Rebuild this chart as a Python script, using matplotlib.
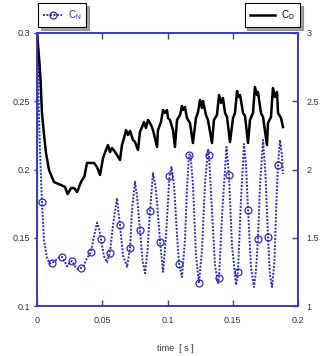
import matplotlib
matplotlib.use("Agg")
import matplotlib.pyplot as plt

plt.rcParams['font.family'] = ['Liberation Sans', 'DejaVu Sans']
plt.rcParams['mathtext.fontset'] = 'custom'
plt.rcParams['mathtext.rm'] = 'Liberation Sans'

# ---- data -----------------------------------------------------------
x_ticks = [0, 0.05, 0.1, 0.15, 0.2]
x_tick_labels = ['0', '0.05', '0.1', '0.15', '0.2']
left_ticks = [0.1, 0.15, 0.2, 0.25, 0.3]
left_tick_labels = ['0.1', '0.15', '0.2', '0.25', '0.3']
right_ticks = [1, 1.5, 2, 2.5, 3]
right_tick_labels = ['1', '1.5', '2', '2.5', '3']

cn_t = [0, 0.0003, 0.0012, 0.0023, 0.0038, 0.0054, 0.0077, 0.0100, 0.0115, 0.0138,
        0.0161, 0.0192, 0.0215, 0.023, 0.0253, 0.0268, 0.0291, 0.0314, 0.0337, 0.036,
        0.0383, 0.0414, 0.0437, 0.046, 0.0475, 0.049, 0.0513, 0.0536, 0.0559, 0.0582,
        0.0613, 0.0636, 0.0659, 0.069, 0.0713, 0.0728, 0.0751, 0.0766, 0.0789, 0.0808,
        0.0828, 0.0847, 0.0866, 0.0889, 0.0912, 0.0943, 0.0966, 0.0989, 0.1015, 0.1031,
        0.105, 0.1073, 0.1088, 0.1111, 0.1134, 0.1149, 0.1165, 0.1176, 0.1195, 0.1218,
        0.1241, 0.1264, 0.1287, 0.131, 0.1318, 0.1341, 0.1364, 0.1387, 0.1395, 0.1418,
        0.1452, 0.1471, 0.1494, 0.1525, 0.154, 0.1563, 0.1586, 0.1602, 0.1617, 0.164,
        0.1663, 0.1678, 0.1693, 0.1709, 0.1732, 0.1751, 0.177, 0.1785, 0.1801, 0.182,
        0.1835, 0.1847, 0.1862, 0.1877, 0.1885]
cn_v = [0.10, 0.30, 0.251, 0.214, 0.176, 0.148, 0.135, 0.131, 0.1315, 0.133,
        0.135, 0.136, 0.132, 0.129, 0.132, 0.133, 0.129, 0.127, 0.128, 0.130,
        0.135, 0.1396, 0.151, 0.161, 0.157, 0.149, 0.1366, 0.132, 0.139, 0.159,
        0.179, 0.159, 0.137, 0.1286, 0.1425, 0.170, 0.191, 0.181, 0.1557, 0.134,
        0.124, 0.141, 0.1696, 0.1974, 0.185, 0.147, 0.125, 0.152, 0.1952, 0.2018,
        0.1886, 0.152, 0.1308, 0.1212, 0.1484, 0.185, 0.2106, 0.2114, 0.189, 0.1374,
        0.1168, 0.141, 0.189, 0.215, 0.2106, 0.170, 0.130, 0.1168, 0.1205, 0.1667,
        0.2165, 0.196, 0.1447, 0.1154, 0.125, 0.1777, 0.2187, 0.2033, 0.1703, 0.128,
        0.1139, 0.126, 0.149, 0.1886, 0.2216, 0.196, 0.1505, 0.1227, 0.1139, 0.1337,
        0.1777, 0.2033, 0.2216, 0.2106, 0.1967]
cn_marker_t = [0.0038, 0.0115, 0.0192, 0.0268, 0.0337, 0.0414, 0.049, 0.0559, 0.0636,
               0.0713, 0.0789, 0.0866, 0.0943, 0.1015, 0.1088, 0.1165, 0.1241, 0.1318,
               0.1395, 0.1471, 0.154, 0.1617, 0.1693, 0.177, 0.1847]

cd_t = [0, 0.0008, 0.0019, 0.0027, 0.0038, 0.0054, 0.0069, 0.0092, 0.013, 0.0184,
        0.0215, 0.0234, 0.0261, 0.0284, 0.0307, 0.0337, 0.0364, 0.0383, 0.0414, 0.0437,
        0.046,
        0.0483, 0.0506, 0.0529, 0.0544, 0.0559, 0.0575, 0.0598, 0.0613, 0.0636, 0.0651,
        0.0667, 0.0682, 0.0697, 0.0713, 0.0736, 0.0751, 0.0774, 0.0789, 0.0805, 0.082,
        0.0835, 0.0851, 0.0874, 0.0889, 0.092,
        0.0927, 0.095, 0.0966, 0.0981, 0.0996, 0.1004, 0.1019, 0.1042, 0.1057, 0.1073,
        0.1096, 0.1111, 0.1119, 0.1134, 0.1149, 0.1172, 0.1195, 0.1218, 0.1234, 0.1249,
        0.1264, 0.1272, 0.1295, 0.131, 0.1341, 0.1356, 0.1379, 0.1395, 0.141, 0.1425,
        0.1441, 0.1456, 0.1479, 0.1502, 0.1517, 0.1533, 0.154, 0.1556, 0.1579, 0.1594,
        0.1617, 0.1632, 0.1655, 0.167, 0.1686, 0.1693, 0.1716, 0.1732, 0.1762, 0.177,
        0.1793, 0.1808, 0.1824, 0.1839, 0.1847, 0.187, 0.1885]
cd_v = [3.0, 2.91, 2.78, 2.656, 2.414, 2.253, 2.121, 1.996, 1.908, 1.886,
        1.872, 1.82, 1.864, 1.864, 1.835, 1.908, 1.952, 2.048, 2.048, 2.048,
        2.018,
        1.960, 2.084, 2.143, 2.179, 2.128, 2.158, 2.128, 2.106, 2.070, 2.179,
        2.231, 2.289, 2.253, 2.282, 2.216, 2.201, 2.143, 2.275, 2.311, 2.348,
        2.304, 2.363, 2.326, 2.289, 2.165,
        2.289, 2.348, 2.436, 2.414, 2.436, 2.377, 2.363, 2.289, 2.165, 2.363,
        2.399, 2.465, 2.436, 2.458, 2.377, 2.341, 2.194, 2.377, 2.421, 2.509,
        2.451, 2.502, 2.399, 2.363, 2.194, 2.363, 2.399, 2.546, 2.487, 2.524,
        2.414, 2.385, 2.201, 2.377, 2.414, 2.575, 2.531, 2.546, 2.414, 2.392,
        2.194, 2.363, 2.414, 2.604, 2.546, 2.568, 2.414, 2.385, 2.179, 2.341,
        2.385, 2.597, 2.531, 2.568, 2.414, 2.377, 2.311]

# ---- style ----------------------------------------------------------
BLUE = '#2a2ac4'
SPINE = '#3a3ac0'
TXT = '#333333'
FS = 6.5

fig = plt.figure(figsize=(3.24, 3.56), dpi=100)
ax = fig.add_axes([37/324, 50/356, 261/324, 273/356])
ax2 = ax.twinx()

marker_idx = [i for i, t in enumerate(cn_t) if t in cn_marker_t]
ln_cn, = ax.plot(cn_t, cn_v, color=BLUE, lw=1.4, ls=(0, (1, 0.8)),
                 marker='o', ms=5, mfc='none', mec=BLUE, mew=0.9,
                 markevery=marker_idx, clip_on=True)
ln_cd, = ax2.plot(cd_t, cd_v, color='black', lw=1.8)

ax.set_xlim(0, 0.2)
ax.set_ylim(0.1, 0.3)
ax2.set_ylim(1, 3)

ax.set_xticks(x_ticks)
ax.set_xticklabels(x_tick_labels)
ax.set_yticks(left_ticks)
ax.set_yticklabels(left_tick_labels)
ax2.set_yticks(right_ticks)
ax2.set_yticklabels(right_tick_labels)

ax.tick_params(axis='x', which='both', direction='in', length=4.5, width=1,
               color=SPINE, top=True, labelsize=FS, labelcolor=TXT, pad=7)
ax.tick_params(axis='y', direction='out', length=2, width=1, color=SPINE,
               labelsize=FS, labelcolor=TXT, pad=3)
ax2.tick_params(axis='y', direction='in', length=4, width=1, color=SPINE,
                labelsize=FS, labelcolor=TXT, pad=6)

for a in (ax, ax2):
    for s in a.spines.values():
        s.set_color(SPINE)
        s.set_linewidth(1.2)

ax.set_xlabel('time  [ s ]', fontsize=FS, color=TXT)
ax.xaxis.set_label_coords(0.53, -0.14)

leg1 = fig.legend([ln_cn], [r'C$_\mathregular{N}$'], loc='upper left',
                  bbox_to_anchor=(38/324, 1 - 3/356), fontsize=7,
                  frameon=True, fancybox=False, shadow=True, borderaxespad=0,
                  handlelength=1.9, handletextpad=0.6, borderpad=0.55,
                  labelcolor=BLUE)
leg1.get_frame().set_edgecolor('black')
leg1.get_frame().set_linewidth(0.8)

leg2 = fig.legend([ln_cd], [r'C$_\mathregular{D}$'], loc='upper right',
                  bbox_to_anchor=(300/324, 1 - 3/356), fontsize=7,
                  frameon=True, fancybox=False, shadow=True, borderaxespad=0,
                  handlelength=2.6, handletextpad=0.6, borderpad=0.55,
                  labelcolor='black')
leg2.get_frame().set_edgecolor('black')
leg2.get_frame().set_linewidth(0.8)

fig.savefig('out.png', dpi=100)
